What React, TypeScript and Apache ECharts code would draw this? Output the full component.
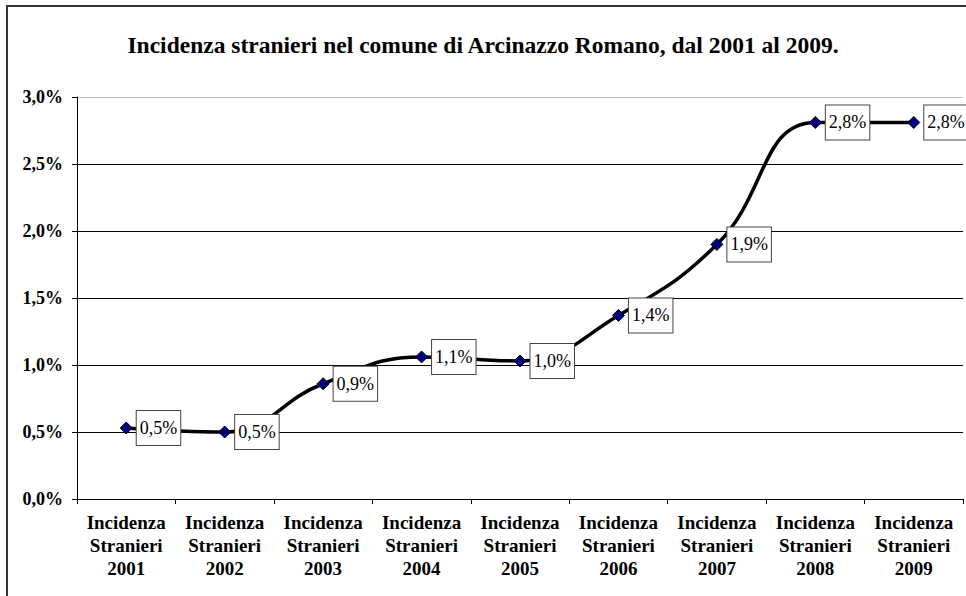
import React, { useEffect, useRef } from "react";
import * as echarts from "echarts";

const categories = [
  "Incidenza\nStranieri\n2001",
  "Incidenza\nStranieri\n2002",
  "Incidenza\nStranieri\n2003",
  "Incidenza\nStranieri\n2004",
  "Incidenza\nStranieri\n2005",
  "Incidenza\nStranieri\n2006",
  "Incidenza\nStranieri\n2007",
  "Incidenza\nStranieri\n2008",
  "Incidenza\nStranieri\n2009",
];
const values = [0.53, 0.5, 0.86, 1.06, 1.03, 1.37, 1.9, 2.81, 2.81];
const title = "Incidenza stranieri nel comune di Arcinazzo Romano, dal 2001 al 2009.";

const fmt = (v: number) => v.toFixed(1).replace(".", ",") + "%";
const FONT = "Liberation Serif";

export default function App() {
  const ref = useRef<HTMLDivElement>(null);
  useEffect(() => {
    document.body.style.margin = "0";
    const chart = echarts.init(ref.current!, null, { renderer: "svg" });
    chart.setOption({
      animation: false,
      backgroundColor: "#fff",
      textStyle: { fontFamily: FONT },
      title: {
        text: title,
        left: "center",
        top: 28,
        textStyle: { fontFamily: FONT, fontSize: 23.5, fontWeight: "bold", color: "#000" },
      },
      graphic: [
        {
          type: "rect",
          shape: { x: 7, y: 6, width: 975, height: 610 },
          style: { fill: "none", stroke: "#333", lineWidth: 2 },
          silent: true,
        },
      ],
      grid: { left: 77, right: 3, top: 97, bottom: 97, containLabel: false },
      xAxis: {
        type: "category",
        data: categories,
        boundaryGap: true,
        axisLine: { lineStyle: { color: "#000", width: 1 } },
        axisTick: { show: true, length: 5, alignWithLabel: false, lineStyle: { color: "#000" } },
        axisLabel: {
          interval: 0,
          margin: 12,
          fontFamily: FONT,
          fontSize: 19,
          fontWeight: "bold",
          color: "#000",
          lineHeight: 23,
        },
      },
      yAxis: {
        type: "value",
        min: 0,
        max: 3,
        interval: 0.5,
        axisLine: { show: true, lineStyle: { color: "#000", width: 1 } },
        axisTick: { show: true, length: 5, lineStyle: { color: "#000" } },
        axisLabel: {
          margin: 14,
          fontFamily: FONT,
          fontSize: 18,
          fontWeight: "bold",
          color: "#000",
          formatter: (v: number) => fmt(v),
        },
        splitLine: {
          show: true,
          lineStyle: { color: ["#000", "#000", "#000", "#000", "#000", "#000", "#c0c0c0"], width: 1 },
        },
      },
      series: [
        {
          type: "line",
          data: values,
          smooth: 0.45,
          lineStyle: { color: "#000", width: 3.5 },
          symbol: "diamond",
          symbolSize: 12,
          itemStyle: { color: "#000080", borderColor: "#000", borderWidth: 1 },
          z: 3,
          label: {
            show: true,
            position: "right",
            distance: 4,
            formatter: (p: any) => fmt(p.value),
            fontFamily: FONT,
            fontSize: 18,
            color: "#000",
            backgroundColor: "#fff",
            borderColor: "#444",
            borderWidth: 1,
            padding: [8, 3, 8, 3],
          },
        },
      ],
    });
    return () => chart.dispose();
  }, []);
  return <div ref={ref} style={{ width: 966, height: 596 }} />;
}
